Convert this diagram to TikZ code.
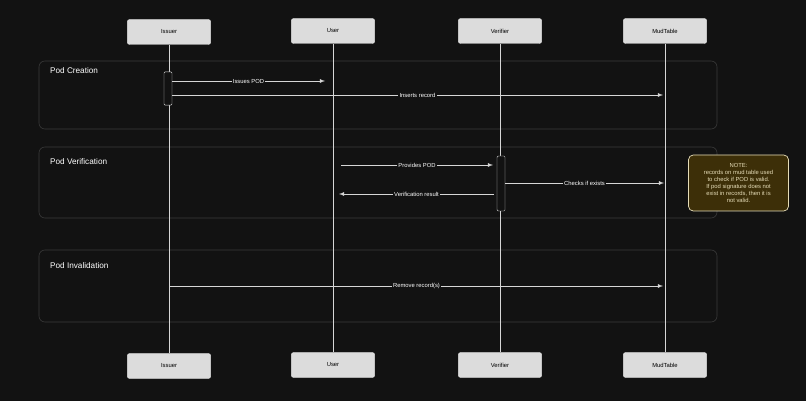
\documentclass[tikz,border=0pt]{standalone}
\usepackage{fontspec}
\setmainfont{Liberation Sans}
\usetikzlibrary{positioning}
\definecolor{bgdark}{HTML}{121212}
\definecolor{boxgray}{HTML}{DCDCDC}
\definecolor{linegray}{HTML}{D6D6D6}
\definecolor{groupline}{HTML}{3A3A3A}
\definecolor{notefill}{HTML}{3D2F08}
\definecolor{noteline}{HTML}{E6DDB8}

\begin{document}
\begin{tikzpicture}[x=0.03cm, y=-0.03cm,
    actor/.style={draw=boxgray, fill=boxgray, rounded corners=2pt, minimum width=2.5cm, minimum height=0.75cm, font=\tiny, text=black},
    lifeline/.style={draw=linegray, line width=0.5pt},
    group/.style={draw=groupline, rounded corners=5pt, line width=0.5pt},
    grouplabel/.style={anchor=west, text=white, font=\scriptsize},
    act/.style={draw=linegray, fill=bgdark, rounded corners=1pt, minimum width=0.24cm, inner sep=0pt},
    msg/.style={draw=linegray, line width=0.5pt, -latex},
    msglabel/.style={fill=bgdark, text=white, font=\tiny, inner sep=1pt}]
  \fill[bgdark] (0,0) rectangle (806,401);
  \useasboundingbox (0,0) rectangle (806,401);

  % groups
  \draw[group] (39,61) rectangle (717,129);
  \draw[group] (39,147) rectangle (717,218);
  \draw[group] (39,250) rectangle (717,322);
  \node[grouplabel] (gcreate) at (46,71) {Pod Creation};
  \node[grouplabel] (gverify) at (46,162) {Pod Verification};
  \node[grouplabel] (ginval) at (46,266) {Pod Invalidation};

  % actors
  \node[actor] (issuer) at (169,32) {Issuer};
  \node[actor] (user) at (333,31) {User};
  \node[actor] (verifier) at (500,31) {Verifier};
  \node[actor] (mud) at (665,31) {MudTable};
  \node[actor] (issuerB) at (169,366) {Issuer};
  \node[actor] (userB) at (333,365) {User};
  \node[actor] (verifierB) at (500,365) {Verifier};
  \node[actor] (mudB) at (665,365) {MudTable};

  \draw[lifeline] (issuer) -- (issuerB);
  \draw[lifeline] (user) -- (userB);
  \draw[lifeline] (verifier) -- (verifierB);
  \draw[lifeline] (mud) -- (mudB);

  % activations
  \node[act, minimum height=1cm] (issact) at (168,88.5) {};
  \node[act, minimum height=1.65cm] (veract) at (501,183.5) {};

  % messages
  \coordinate (a1) at (172,81);  \coordinate (a2) at (325,81);
  \coordinate (b1) at (172,95);  \coordinate (b2) at (663,95);
  \coordinate (c1) at (341,165); \coordinate (c2) at (493,165);
  \coordinate (d1) at (505,183); \coordinate (d2) at (664,183);
  \coordinate (e1) at (494,194); \coordinate (e2) at (339,194);
  \coordinate (f1) at (170,286); \coordinate (f2) at (663,286);
  \draw[msg] (a1) -- node[msglabel] {Issues POD} (a2);
  \draw[msg] (b1) -- node[msglabel] {Inserts record} (b2);
  \draw[msg] (c1) -- node[msglabel] {Provides POD} (c2);
  \draw[msg] (d1) -- node[msglabel] {Checks if exists} (d2);
  \draw[msg] (e1) -- node[msglabel] {Verification result} (e2);
  \draw[msg] (f1) -- node[msglabel] {Remove record(s)} (f2);

  % note
  \node[draw=noteline, fill=notefill, text=noteline, rounded corners=4pt, line width=0.6pt,
        minimum width=3cm, minimum height=1.68cm, align=center, font=\fontsize{5}{6}\selectfont]
    (note) at (738.5,183) {NOTE:\\records on mud table used\\to check if POD is valid.\\If pod signature does not\\exist in records, then it is\\not valid.};
\end{tikzpicture}
\end{document}
